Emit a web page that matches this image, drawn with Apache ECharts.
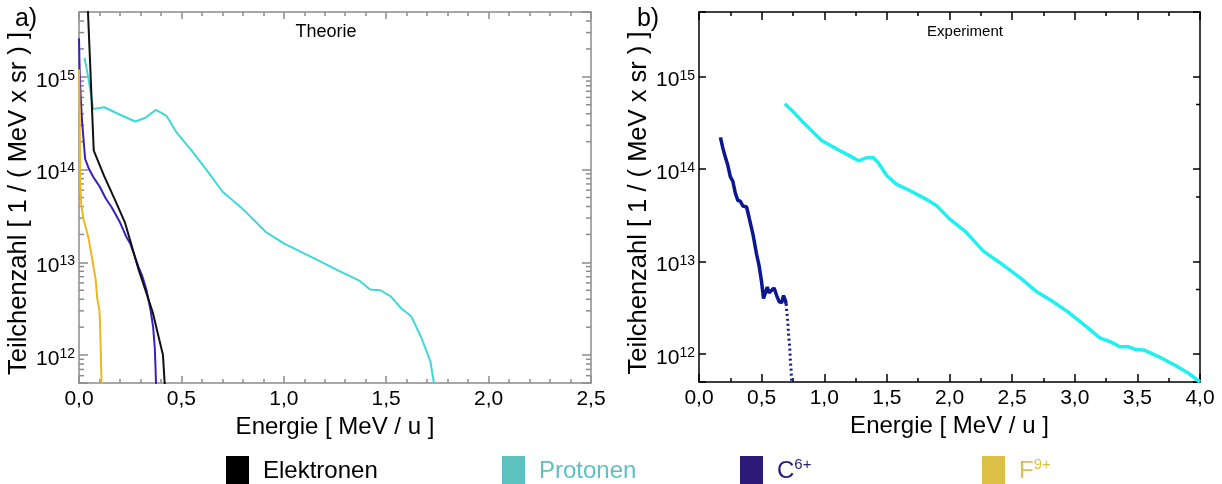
<!DOCTYPE html>
<html><head><meta charset="utf-8">
<script src="https://cdn.jsdelivr.net/npm/echarts@6/dist/echarts.min.js"></script>
<style>html,body{margin:0;padding:0;background:#fff}#c{width:1222px;height:484px}</style>
</head><body><div id="c"></div>
<script>
// ---- Data: [Energie (MeV/u), Teilchenzahl] ----
const theoryElektronen = [[0.038,1e16],[0.044,4.9e15],[0.072,1.6e14],[0.123,8.5e13],[0.174,4.8e13],[0.224,2.7e13],[0.29,8.5e12],[0.36,2.9e12],[0.41,1.0e12],[0.418,5.1e11],[0.43,3e11]];
const theoryProtonen = [[0.027,1.6e15],[0.045,1.0e15],[0.069,4.5e14],[0.123,4.7e14],[0.2,3.9e14],[0.275,3.3e14],[0.322,3.6e14],[0.376,4.4e14],[0.427,3.8e14],[0.477,2.5e14],[0.55,1.6e14],[0.629,9.5e13],[0.7,5.8e13],[0.78,4.1e13],[0.814,3.5e13],[0.915,2.1e13],[1.0,1.6e13],[1.168,1.05e13],[1.269,8.1e12],[1.371,6.3e12],[1.421,5.1e12],[1.472,5.0e12],[1.522,4.3e12],[1.573,3.2e12],[1.623,2.6e12],[1.674,1.5e12],[1.716,8.5e11],[1.733,5e11]];
const theoryC6 = [[0.0,2.6e15],[0.003,1.2e15],[0.008,6.2e14],[0.015,3.3e14],[0.03,1.3e14],[0.05,1.0e14],[0.07,8.3e13],[0.1,6.6e13],[0.13,4.9e13],[0.16,3.9e13],[0.2,2.7e13],[0.23,1.9e13],[0.25,1.6e13],[0.27,1.2e13],[0.29,9e12],[0.31,7e12],[0.33,5e12],[0.35,3e12],[0.362,2e12],[0.37,1.2e12],[0.373,8e11],[0.376,5e11],[0.377,3e11]];
const theoryF9 = [[0.0,1.2e15],[0.002,7e14],[0.004,2.5e14],[0.005,1.0e14],[0.007,6e13],[0.012,4e13],[0.022,2.9e13],[0.035,2.3e13],[0.047,1.8e13],[0.064,1.1e13],[0.081,6.6e12],[0.089,4.1e12],[0.1,3e12],[0.103,2e12],[0.106,1.2e12],[0.11,5e11],[0.111,3e11]];
const expProtonen = [[0.685,5.1e14],[0.75,4.2e14],[0.833,3.2e14],[0.9,2.6e14],[0.976,2.05e14],[1.05,1.8e14],[1.118,1.6e14],[1.2,1.4e14],[1.275,1.23e14],[1.33,1.32e14],[1.39,1.34e14],[1.43,1.18e14],[1.5,8.5e13],[1.575,6.9e13],[1.69,5.8e13],[1.83,4.6e13],[1.9,4.0e13],[2.0,2.9e13],[2.13,2.1e13],[2.27,1.3e13],[2.4,9.8e12],[2.57,6.6e12],[2.69,4.8e12],[2.8,3.9e12],[2.94,2.9e12],[3.09,2.0e12],[3.2,1.5e12],[3.29,1.35e12],[3.36,1.2e12],[3.43,1.2e12],[3.49,1.12e12],[3.56,1.1e12],[3.69,9.1e11],[3.8,7.6e11],[3.91,6.2e11],[4.0,5.0e11]];
const expC6 = [[0.171,2.2e14],[0.19,1.7e14],[0.21,1.35e14],[0.23,1.1e14],[0.25,8.3e13],[0.27,7.4e13],[0.29,5.5e13],[0.31,4.6e13],[0.33,4.5e13],[0.35,4.0e13],[0.38,3.9e13],[0.4,3.0e13],[0.43,2.0e13],[0.46,1.2e13],[0.48,9e12],[0.5,6e12],[0.515,4.0e12],[0.53,4.6e12],[0.545,5.3e12],[0.56,4.6e12],[0.58,4.9e12],[0.6,5.2e12],[0.62,4.3e12],[0.64,3.7e12],[0.66,3.6e12],[0.675,4.3e12],[0.69,3.8e12],[0.696,3.5e12]];
const expC6Tail = [[0.696,3.5e12],[0.70,3.0e12],[0.708,2.3e12],[0.713,1.8e12],[0.719,1.4e12],[0.724,1.2e12],[0.727,1.02e12],[0.729,8.7e11],[0.735,6.8e11],[0.74,5.0e11]];

// ---- Tick values ----
const xTicksTheorie = { min: 0, max: 2.5, interval: 0.5 };
const xTicksExperiment = { min: 0, max: 4.0, interval: 0.5 };
const yRange = { min: 5e11, max: 5e15 };
const logMinorMantissa = [2,3,4,5,6,7,8,9];
const logDecades = [11,12,13,14,15];
const expMinorTicks = [5e12, 5e13, 5e14];

const FONT = "'Liberation Sans', Arial, Helvetica, sans-serif";
const GRAY = '#8c8c8c';

const leftMinor = [];
logDecades.forEach(d => logMinorMantissa.forEach(m => leftMinor.push([0, m * Math.pow(10, d)])));
const rightMinor = expMinorTicks.map(v => [0, v]);

function fmtX(v){ return v.toFixed(1).replace('.', ','); }
function fmtY(v){
  const e = Math.log10(v); const r = Math.round(e);
  if (Math.abs(e - r) > 1e-6) return '';
  return '{b|10}{s|' + r + '}';
}
const yRich = {
  b: { fontSize: 21, fontFamily: FONT, color: '#000', lineHeight: 24 },
  s: { fontSize: 14, fontFamily: FONT, color: '#000', verticalAlign: 'top', lineHeight: 14 }
};

function minorTickRenderer(len, leftSide, rightSide, color, width){
  return function(params, api){
    const cs = params.coordSys;
    const y = api.coord([api.value(0), api.value(1)])[1];
    if (y <= cs.y + 0.5 || y >= cs.y + cs.height - 0.5) return;
    const children = [];
    if (leftSide) children.push({type:'line', shape:{x1:cs.x, y1:y, x2:cs.x+len, y2:y}, style:{stroke:color, lineWidth:width}});
    if (rightSide) children.push({type:'line', shape:{x1:cs.x+cs.width-len, y1:y, x2:cs.x+cs.width, y2:y}, style:{stroke:color, lineWidth:width}});
    return {type:'group', children};
  };
}

function xAxisCfg(grid, rng, color, w, pos, labels, majorLen, minorLen, minorSplit){
  return {
    gridIndex: grid, type: 'value', position: pos, min: rng.min, max: rng.max, interval: rng.interval,
    axisLine: { show: true, onZero: false, lineStyle: { color: color, width: w } },
    axisTick: { show: true, inside: true, length: majorLen, lineStyle: { color: color, width: w } },
    minorTick: { show: true, splitNumber: minorSplit, length: minorLen, lineStyle: { color: color, width: w } },
    splitLine: { show: false },
    axisLabel: { show: labels, formatter: fmtX, color: '#000', fontSize: 21, fontFamily: FONT, margin: 6 },
    name: labels ? 'Energie [ MeV / u ]' : '', nameLocation: 'middle', nameGap: 30,
    nameTextStyle: { fontSize: 24, fontFamily: FONT, color: '#000' }
  };
}
function yAxisCfg(grid, color, w, pos, labels, majorLen){
  return {
    gridIndex: grid, type: 'log', logBase: 10, position: pos, min: yRange.min, max: yRange.max,
    axisLine: { show: true, onZero: false, lineStyle: { color: color, width: w } },
    axisTick: { show: true, inside: true, length: majorLen, lineStyle: { color: color, width: w } },
    splitLine: { show: false },
    axisLabel: { show: labels, formatter: fmtY, rich: yRich, margin: 4, padding: [8, 0, 0, 0] },
    name: labels ? 'Teilchenzahl [ 1 / ( MeV x sr ) ]' : '', nameLocation: 'middle', nameGap: 44,
    nameTextStyle: { fontSize: 25.5, fontFamily: FONT, color: '#000', padding: [0, 12, 0, 0] }
  };
}

function legendCfg(left, name, color, formatter, rich){
  return {
    left: left, top: 451, itemWidth: 23, itemHeight: 31, icon: 'rect', selectedMode: false,
    data: [{ name: name, icon: 'rect', itemStyle: { color: color, borderWidth: 0 } }],
    formatter: formatter,
    textStyle: { fontSize: 24, fontFamily: FONT, color: color, padding: [0,0,0,9], rich: rich }
  };
}

const option = {
  animation: false,
  backgroundColor: '#fff',
  grid: [
    { left: 79, top: 12, width: 512, height: 371 },
    { left: 699, top: 12, width: 501, height: 370 }
  ],
  xAxis: [
    xAxisCfg(0, xTicksTheorie, GRAY, 1.5, 'bottom', true, 7, 4, 5),
    xAxisCfg(0, xTicksTheorie, GRAY, 1.5, 'top', false, 7, 4, 5),
    xAxisCfg(1, xTicksExperiment, '#000', 1.5, 'bottom', true, 8, 4, 2),
    xAxisCfg(1, xTicksExperiment, '#000', 1.5, 'top', false, 8, 4, 2)
  ],
  yAxis: [
    yAxisCfg(0, GRAY, 1.5, 'left', true, 9),
    yAxisCfg(0, GRAY, 1.5, 'right', false, 9),
    yAxisCfg(1, '#000', 1.5, 'left', true, 7),
    yAxisCfg(1, '#000', 1.5, 'right', false, 7)
  ],
  legend: [
    legendCfg(221, 'Elektronen', '#000000'),
    legendCfg(497, 'Protonen', '#5bc2bf'),
    legendCfg(735, 'C6+', '#2c1a78', function(){ return '{b|C}{s|6+}'; },
      { b: { fontSize: 24, fontFamily: FONT, color: '#2c1a78', lineHeight: 28 }, s: { fontSize: 15, fontFamily: FONT, color: '#2c1a78', verticalAlign: 'top', lineHeight: 15 } }),
    legendCfg(977, 'F9+', '#dcbf45', function(){ return '{b|F}{s|9+}'; },
      { b: { fontSize: 24, fontFamily: FONT, color: '#dcbf45', lineHeight: 28 }, s: { fontSize: 15, fontFamily: FONT, color: '#dcbf45', verticalAlign: 'top', lineHeight: 15 } })
  ],
  graphic: [
    { type: 'text', x: 26, y: 19, style: { text: 'a)', fontSize: 25, fontFamily: FONT, fill: '#000', align: 'center', verticalAlign: 'middle' } },
    { type: 'text', x: 648, y: 19, style: { text: 'b)', fontSize: 25, fontFamily: FONT, fill: '#000', align: 'center', verticalAlign: 'middle' } },
    { type: 'text', x: 326, y: 32, style: { text: 'Theorie', fontSize: 18, fontFamily: FONT, fill: '#000', align: 'center', verticalAlign: 'middle' } },
    { type: 'text', x: 965, y: 32, style: { text: 'Experiment', fontSize: 15, fontFamily: FONT, fill: '#000', align: 'center', verticalAlign: 'middle' } }
  ],
  series: [
    { name: 'Protonen', type: 'line', xAxisIndex: 0, yAxisIndex: 0, data: theoryProtonen, showSymbol: false, clip: true, lineStyle: { color: '#3ed8d8', width: 2 }, itemStyle: { color: '#3ed8d8' } },
    { name: 'C6+', type: 'line', xAxisIndex: 0, yAxisIndex: 0, data: theoryC6, showSymbol: false, clip: true, lineStyle: { color: '#3a1fc0', width: 2 }, itemStyle: { color: '#3a1fc0' } },
    { name: 'Elektronen', type: 'line', xAxisIndex: 0, yAxisIndex: 0, data: theoryElektronen, showSymbol: false, clip: true, lineStyle: { color: '#111', width: 2 }, itemStyle: { color: '#111' } },
    { name: 'F9+', type: 'line', xAxisIndex: 0, yAxisIndex: 0, data: theoryF9, showSymbol: false, clip: true, lineStyle: { color: '#ebb820', width: 2 }, itemStyle: { color: '#ebb820' } },
    { name: 'Protonen', type: 'line', xAxisIndex: 2, yAxisIndex: 2, data: expProtonen, showSymbol: false, clip: true, lineStyle: { color: '#1ff0f0', width: 3.5 }, itemStyle: { color: '#1ff0f0' } },
    { name: 'C6+', type: 'line', xAxisIndex: 2, yAxisIndex: 2, data: expC6, showSymbol: false, clip: true, lineStyle: { color: '#0b1690', width: 3.5 }, itemStyle: { color: '#0b1690' } },
    { name: 'C6+', type: 'line', xAxisIndex: 2, yAxisIndex: 2, data: expC6Tail, showSymbol: false, clip: true, lineStyle: { color: '#0b1690', width: 3, type: [2, 3] }, itemStyle: { color: '#0b1690' } },
    { name: '_minorL', type: 'custom', xAxisIndex: 0, yAxisIndex: 0, data: leftMinor, renderItem: minorTickRenderer(5, true, true, GRAY, 1.5), silent: true },
    { name: '_minorR', type: 'custom', xAxisIndex: 2, yAxisIndex: 2, data: rightMinor, renderItem: minorTickRenderer(4, false, true, '#000', 1.5), silent: true }
  ]
};
const chart = echarts.init(document.getElementById('c'));
chart.setOption(option);
</script></body></html>
